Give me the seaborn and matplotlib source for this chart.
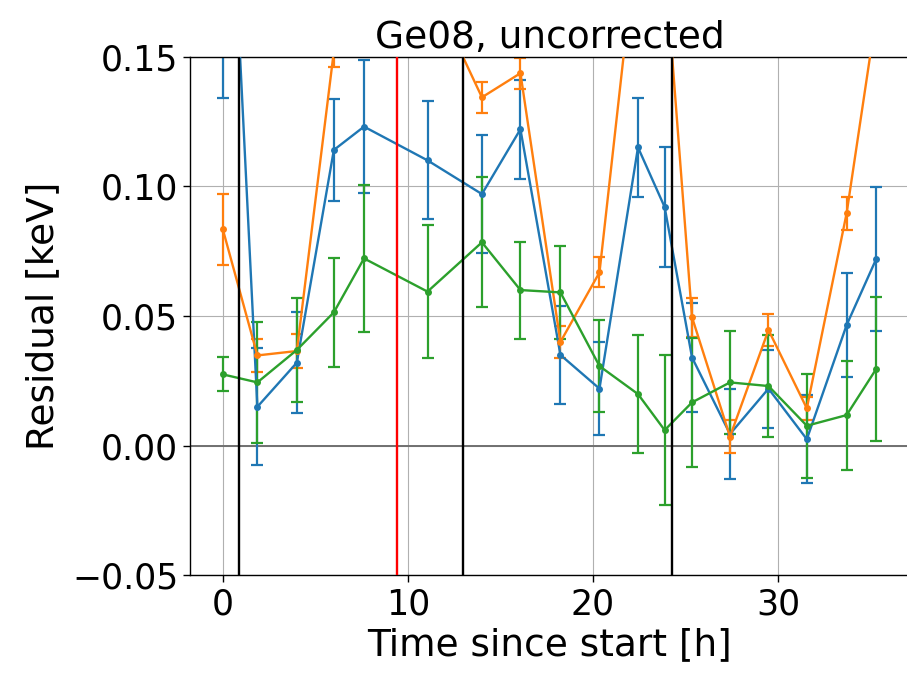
import matplotlib
matplotlib.use("Agg")
import matplotlib.pyplot as plt
import seaborn as sns
import pandas as pd

# ---- data ----
time_h = [0.0, 1.87, 4.0, 6.0, 7.63, 11.06, 14.0, 16.08, 18.24, 20.35,
          22.43, 23.87, 25.35, 27.4, 29.48, 31.55, 33.7, 35.3]

blue = [0.285, 0.015, 0.032, 0.114, 0.123, 0.110, 0.097, 0.122, 0.035, 0.022,
        0.115, 0.092, 0.034, 0.0045, 0.022, 0.0025, 0.0465, 0.072]
blue_err = [0.151, 0.0226, 0.0195, 0.0196, 0.0256, 0.0227, 0.0226, 0.019, 0.019, 0.018,
            0.019, 0.023, 0.021, 0.0175, 0.015, 0.017, 0.020, 0.0276]

orange = [0.0835, 0.0348, 0.0365, 0.152, 0.20, 0.179, 0.1343, 0.1436, 0.040, 0.0668,
          0.20, 0.188, 0.0495, 0.0035, 0.0446, 0.0144, 0.0896, 0.166]
orange_err = [0.0137, 0.0065, 0.0065, 0.006, 0.006, 0.006, 0.006, 0.006, 0.006, 0.0058,
              0.006, 0.006, 0.0075, 0.0065, 0.006, 0.0045, 0.0063, 0.006]

green = [0.0275, 0.0244, 0.0369, 0.0514, 0.0722, 0.0594, 0.0784, 0.060, 0.0591, 0.0307,
         0.0199, 0.006, 0.0167, 0.0244, 0.023, 0.0077, 0.0118, 0.0296]
green_err = [0.0066, 0.0234, 0.02, 0.021, 0.0283, 0.0255, 0.025, 0.0187, 0.018, 0.0178,
             0.0228, 0.0288, 0.025, 0.02, 0.0196, 0.020, 0.021, 0.0278]

black_lines = [0.88, 12.97, 24.28]
red_line = 9.4

title = "Ge08, uncorrected"
xlabel = "Time since start [h]"
ylabel = "Residual [keV]"

# ---- plotting ----
sns.set_style("white")
plt.rcParams["font.family"] = ["DejaVu Sans"]
plt.rcParams["text.color"] = "black"
plt.rcParams["axes.labelcolor"] = "black"
plt.rcParams["xtick.color"] = "black"
plt.rcParams["ytick.color"] = "black"

fig = plt.figure(figsize=(9.07, 6.76), dpi=100)
ax = fig.add_axes([190 / 907, 1 - 575.4 / 676, (909 - 190) / 907, (575.4 - 56.6) / 676])

colors = ["#1f77b4", "#ff7f0e", "#2ca02c"]
series = [("blue", blue, blue_err), ("orange", orange, orange_err), ("green", green, green_err)]

for (name, vals, errs), c in zip(series, colors):
    df = pd.DataFrame({"t": time_h, "r": vals})
    ax.errorbar(time_h, vals, yerr=errs, fmt="none", ecolor=c, elinewidth=1.6,
                capsize=4, capthick=1.6, zorder=2)
    sns.lineplot(data=df, x="t", y="r", ax=ax, color=c, marker="o", markersize=5,
                 markeredgewidth=0, linewidth=1.7, zorder=3, legend=False)

for xv in black_lines:
    ax.axvline(xv, color="black", linewidth=1.7, zorder=4)
ax.axvline(red_line, color="red", linewidth=1.7, zorder=4)
ax.axhline(0, color="#707070", linewidth=1.4, zorder=1)

ax.set_xlim(-1.77, 37.07)
ax.set_ylim(-0.05, 0.15)
ax.set_yticks([-0.05, 0.0, 0.05, 0.10, 0.15])
ax.set_xticks([0, 10, 20, 30])
ax.grid(True, color="#b0b0b0", linewidth=0.8)
ax.set_axisbelow(True)

for s in ax.spines.values():
    s.set_color("black")
    s.set_linewidth(1.0)

ax.tick_params(axis="both", labelsize=25, direction="out", length=5, width=1,
               color="black", labelcolor="black", left=True, bottom=True)
ax.set_xlabel(xlabel, fontsize=27, labelpad=4, color="black")
ax.set_ylabel(ylabel, fontsize=27, labelpad=8, color="black")
ax.set_title(title, fontsize=27, pad=6, color="black")

fig.savefig("out.png", dpi=100)
